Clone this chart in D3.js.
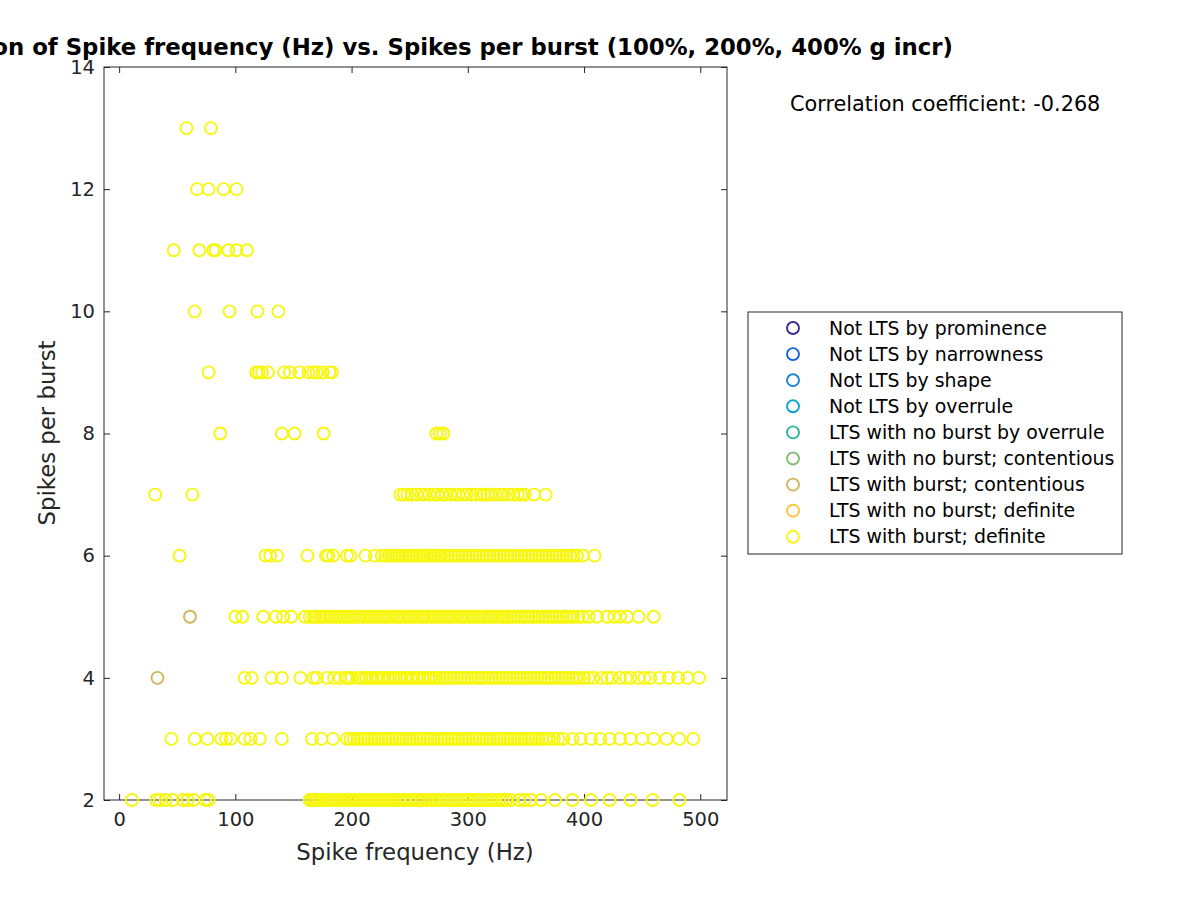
<!DOCTYPE html>
<html>
<head>
<meta charset="utf-8">
<script src="https://cdn.jsdelivr.net/npm/d3@7"></script>
<style>
  body { margin: 0; background: #fff; }
  text { font-family: "DejaVu Sans", sans-serif; fill: #262626; }
  .axis path, .axis line { stroke: #262626; }
  .axis text { font-size: 19.5px; fill: #262626; font-family: "DejaVu Sans", sans-serif; }
</style>
</head>
<body>
<svg id="chart" width="1200" height="900"></svg>
<script>
var width = 1200,
  height = 900;

// legend categories and colours
var categories = [
  "Not LTS by prominence",
  "Not LTS by narrowness",
  "Not LTS by shape",
  "Not LTS by overrule",
  "LTS with no burst by overrule",
  "LTS with no burst; contentious",
  "LTS with burst; contentious",
  "LTS with no burst; definite",
  "LTS with burst; definite"
];
var colors = ["#3b2c8e", "#0d5fe0", "#1985d6", "#0aa5cd", "#2db59e",
  "#87bd79", "#d2b55a", "#fcc53a", "#f7f70e"];

var xTicks = [0, 100, 200, 300, 400, 500];
var yTicks = [2, 4, 6, 8, 10, 12, 14];

// LTS with burst; contentious  (spike frequency, spikes per burst)
var contFreq = [61, 33];
var contSpikes = [5, 4];

// LTS with burst; definite: spike frequency (Hz) by spikes per burst
var spikes13 = [58, 79];
var spikes12 = [67, 77, 90, 101];
var spikes11 = [47, 69, 81, 83, 94, 101, 110];
var spikes10 = [65, 95, 119, 137];
var spikes9 = [77, 118, 120, 123, 128, 142, 147, 155, 163, 167, 170, 175, 181, 183];
var spikes8 = [87, 140, 151, 176, 273, 276, 279];
var spikes7 = [31, 63, 242, 245, 248, 252, 256, 260, 263, 267, 271, 274, 278, 281,
  285, 289, 292, 296, 299, 303, 307, 311, 314, 317, 320, 324, 328, 331, 335, 339,
  343, 346, 349, 357, 367];
var spikes6 = [52, 126, 130, 136, 162, 178, 180, 184, 196, 199, 212, 220, 226, 229,
  232, 234, 237, 239, 241, 244, 246, 249, 251, 253, 256, 258, 261, 263, 265, 268,
  270, 272, 275, 277, 280, 283, 286, 289, 292, 295, 298, 301, 304, 307, 310, 313,
  316, 319, 322, 325, 328, 331, 334, 337, 340, 343, 346, 349, 352, 355, 358, 361,
  364, 367, 370, 373, 376, 379, 382, 385, 388, 391, 394, 399, 409];
var spikes5 = [100, 106, 124, 135, 141, 148, 160, 164, 167, 169, 172, 175, 178, 181,
  183, 186, 189, 191, 194, 197, 199, 202, 205, 207, 210, 213, 216, 218, 221, 224,
  227, 229, 232, 235, 238, 240, 243, 246, 249, 251, 254, 257, 260, 262, 265, 268,
  271, 273, 276, 279, 282, 284, 287, 290, 293, 295, 298, 301, 304, 306, 309, 312,
  315, 318, 320, 323, 326, 329, 331, 334, 337, 340, 343, 346, 349, 352, 355, 358,
  361, 364, 367, 370, 373, 376, 379, 382, 385, 388, 391, 395, 399, 404, 411, 420,
  426, 431, 437, 447, 460];
var spikes4 = [108, 114, 131, 140, 156, 167, 170, 179, 185, 190, 195, 197, 200, 206,
  208, 211, 213, 216, 218, 221, 223, 226, 228, 231, 233, 236, 238, 241, 243, 246,
  248, 251, 253, 256, 258, 261, 263, 266, 268, 271, 273, 276, 279, 282, 285, 288,
  291, 294, 297, 300, 303, 306, 309, 312, 315, 318, 321, 324, 327, 330, 333, 336,
  339, 342, 345, 348, 351, 354, 357, 360, 363, 366, 369, 372, 375, 378, 381, 384,
  387, 390, 393, 396, 400, 404, 408, 415, 420, 424, 431, 436, 440, 447, 452, 457,
  465, 473, 481, 489, 499];
var spikes3 = [45, 65, 76, 88, 92, 96, 108, 113, 121, 140, 166, 174, 184, 196, 199,
  202, 205, 208, 211, 214, 217, 220, 223, 226, 229, 232, 235, 238, 241, 244, 247,
  250, 253, 256, 259, 262, 265, 268, 271, 274, 277, 280, 283, 286, 289, 292, 295,
  298, 301, 304, 307, 310, 313, 316, 319, 322, 325, 328, 331, 334, 337, 340, 343,
  346, 349, 352, 355, 358, 361, 364, 367, 370, 374, 378, 382, 390, 397, 406, 414,
  422, 431, 440, 450, 460, 471, 482, 494];
var spikes2 = [11, 32, 35, 40, 46, 55, 59, 64, 74, 77, 164, 166, 168, 170, 172, 174,
  177, 179, 181, 184, 186, 188, 191, 193, 195, 198, 200, 202, 205, 207, 209, 212,
  214, 216, 219, 221, 223, 226, 228, 230, 233, 235, 237, 240, 242, 245, 247, 250,
  252, 255, 257, 260, 262, 265, 268, 270, 273, 276, 279, 282, 285, 288, 291, 294,
  297, 300, 303, 306, 309, 312, 315, 318, 321, 324, 327, 330, 333, 337, 344, 349,
  354, 363, 375, 390, 406, 422, 440, 459, 482];

var definiteRows = [
  [2, spikes2], [3, spikes3], [4, spikes4], [5, spikes5], [6, spikes6],
  [7, spikes7], [8, spikes8], [9, spikes9], [10, spikes10], [11, spikes11],
  [12, spikes12], [13, spikes13]
];

var points = [];
contFreq.forEach(function(f, i) {
  points.push({ x: f, y: contSpikes[i], c: 6 });
});
definiteRows.forEach(function(row) {
  row[1].forEach(function(f) {
    points.push({ x: f, y: row[0], c: 8 });
  });
});

var svg = d3.select("#chart");

var x = d3.scaleLinear().domain([-13, 523]).range([104, 727]);
var y = d3.scaleLinear().domain([2, 14]).range([800, 67]);

// axes box with inward ticks on all four sides
svg.append("g").attr("class", "axis")
  .attr("transform", "translate(0,800)")
  .call(d3.axisBottom(x).tickValues(xTicks).tickSize(-6).tickPadding(12).tickSizeOuter(0));
svg.append("g").attr("class", "axis")
  .attr("transform", "translate(0,67)")
  .call(d3.axisTop(x).tickValues(xTicks).tickSize(-6).tickSizeOuter(0).tickFormat(""));
svg.append("g").attr("class", "axis")
  .attr("transform", "translate(104,0)")
  .call(d3.axisLeft(y).tickValues(yTicks).tickSize(-6).tickPadding(9).tickSizeOuter(0));
svg.append("g").attr("class", "axis")
  .attr("transform", "translate(727,0)")
  .call(d3.axisRight(y).tickValues(yTicks).tickSize(-6).tickSizeOuter(0).tickFormat(""));

svg.selectAll(".axis path").remove();
svg.append("rect")
  .attr("x", 104).attr("y", 67)
  .attr("width", 623).attr("height", 733)
  .attr("fill", "none").attr("stroke", "#262626").attr("stroke-width", 1);

svg.append("g").selectAll("circle")
  .data(points)
  .enter()
  .append("circle")
  .attr("cx", d => x(d.x))
  .attr("cy", d => y(d.y))
  .attr("r", 6)
  .attr("fill", "none")
  .attr("stroke", d => colors[d.c])
  .attr("stroke-width", 1.9);

// labels
svg.append("text")
  .attr("x", 953).attr("y", 55)
  .attr("text-anchor", "end")
  .style("font-size", "22.8px").style("font-weight", "bold").style("fill", "#000")
  .text("Correlation of Spike frequency (Hz) vs. Spikes per burst (100%, 200%, 400% g incr)");

svg.append("text")
  .attr("x", 415).attr("y", 860)
  .attr("text-anchor", "middle")
  .style("font-size", "22.8px")
  .text("Spike frequency (Hz)");

svg.append("text")
  .attr("transform", "translate(55,433) rotate(-90)")
  .attr("text-anchor", "middle")
  .style("font-size", "22.8px")
  .text("Spikes per burst");

svg.append("text")
  .attr("x", 790).attr("y", 111)
  .style("font-size", "20.8px").style("fill", "#000")
  .text("Correlation coefficient: -0.268");

// legend
var legend = svg.append("g");
legend.append("rect")
  .attr("x", 748).attr("y", 312)
  .attr("width", 374).attr("height", 242)
  .attr("fill", "#fff").attr("stroke", "#262626").attr("stroke-width", 1);

var items = legend.selectAll(".item")
  .data(categories)
  .enter()
  .append("g")
  .attr("transform", function(d, i) {
    return "translate(0," + (328 + i * 26.1) + ")";
  });
items.append("circle")
  .attr("cx", 793).attr("cy", 0).attr("r", 6)
  .attr("fill", "none")
  .attr("stroke", (d, i) => colors[i])
  .attr("stroke-width", 1.9);
items.append("text")
  .attr("x", 829).attr("y", 6.5)
  .style("font-size", "18.9px").style("fill", "#000")
  .text(d => d);
</script>
</body>
</html>
